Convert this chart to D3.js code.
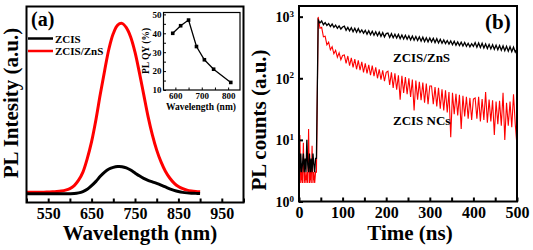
<!DOCTYPE html>
<html lang="en">
<head>
  <meta charset="UTF-8">
  <title>PL spectra and decay</title>
  <style>
    body { margin: 0; background: #fff; }
    svg text { font-family: "Liberation Serif", "DejaVu Serif", serif; font-weight: bold; }
  </style>
</head>
<body>
<script src="https://cdn.jsdelivr.net/npm/d3@7"></script>
<script>
  // ---- panel (a): PL spectra ----
  var wavelength = d3.range(500, 901, 10);
  var zcisZnS = [0.000,0.000,0.000,0.001,0.001,0.002,0.003,0.005,0.008,0.013,
                 0.022,0.040,0.072,0.120,0.200,0.300,0.430,0.580,0.720,0.850,
                 0.940,0.990,1.000,0.975,0.920,0.830,0.710,0.580,0.450,0.340,
                 0.250,0.180,0.125,0.085,0.055,0.035,0.022,0.013,0.008,0.005,0.003];
  var zcis = [-0.008,-0.008,-0.008,-0.008,-0.008,-0.008,-0.008,-0.008,-0.008,-0.008,
              -0.008,-0.007,-0.003,0.005,0.018,0.040,0.065,0.095,0.120,0.138,
              0.148,0.153,0.152,0.145,0.132,0.115,0.098,0.083,0.071,0.062,
              0.053,0.043,0.032,0.021,0.012,0.005,0.000,-0.003,-0.005,-0.006,-0.007];
  var xTicksA = d3.range(500, 1001, 50);
  var xLabelsA = [550, 650, 750, 850, 950];

  // inset: PL QY vs emission wavelength
  var qyWavelength = [590, 620, 650, 680, 710, 745, 810];
  var qyValue = [40, 44, 47, 33, 26, 21, 14];
  var qyXLabels = [600, 700, 800];
  var qyYLabels = [10, 20, 30, 40, 50];

  // ---- panel (b): decay curves ----
  var timePre = d3.range(0, 40, 2);
  var timeMain = d3.range(40, 501, 4);
  var time = timePre.concat(timeMain);
  var decayZnS = [5,3,6,3,4,6,3,5,3,10,4,3,6,3,5,3,6,4,3,5,
    5,
    880,790,850,740,800,720,770,690,760,670,730,650,710,630,680,
    700,600,670,590,660,570,650,560,640,555,610,540,600,520,590,510,580,500,570,490,560,480,550,470,530,
    540,460,530,455,520,450,515,440,505,435,500,430,490,420,485,415,475,410,470,400,465,395,455,390,450,
    390,445,380,440,375,430,370,420,365,410,360,405,350,400,345,390,340,385,335,380,330,370,325,365,330,
    380,320,375,315,370,310,360,305,355,300,350,295,345,290,340,285,335,280,330,275,325,270,320,265,300];
  var decayNCs = [2,12,2,3,2,9,2,3,2,3,2,15,2,3,2,8,2,3,2,3,
    3,
    990,650,670,470,480,350,385,290,325,250,285,220,260,200,235,
    240,175,230,160,215,150,205,140,195,135,185,125,175,120,165,112,160,108,150,100,140,95,135,90,125,
    130,78,125,70,120,65,112,45,110,58,105,55,100,50,95,30,92,45,88,44,85,40,82,38,75,
    75,38,72,35,70,32,66,30,64,28,60,11,58,26,56,25,54,15,52,24,50,22,48,21,46,
    48,22,50,20,46,21,60,19,45,20,44,12,42,18,43,17,58,10,40,17,42,16,55,18,8];
  var xTicksB = d3.range(0, 501, 50);
  var xLabelsB = [0, 100, 200, 300, 400, 500];
  var yTicksB = [1, 10, 100, 1000];

  var svg = d3.select("body").append("svg")
    .attr("width", 533).attr("height", 250);

  // ================= panel (a) =================
  var xa = d3.scaleLinear().domain([500, 1000]).range([26.5, 243.5]);
  var ya = d3.scaleLinear().domain([-0.06, 1.1]).range([202.5, 6.5]);

  var ga = svg.append("g");

  var specLine = d3.line()
    .x(function(d, i) { return xa(wavelength[i]); })
    .y(function(d) { return ya(d); })
    .curve(d3.curveCatmullRom);

  ga.append("path").datum(zcisZnS)
    .attr("fill", "none").attr("stroke", "#ff0000").attr("stroke-width", 3)
    .attr("d", specLine);
  ga.append("path").datum(zcis)
    .attr("fill", "none").attr("stroke", "#000").attr("stroke-width", 3)
    .attr("d", specLine);

  var xAxisA = ga.append("g")
    .attr("transform", "translate(0," + ya.range()[0] + ")")
    .call(d3.axisBottom(xa).tickValues(xTicksA).tickSize(-4).tickPadding(5)
      .tickFormat(function(v) { return xLabelsA.indexOf(v) >= 0 ? v : ""; }));
  xAxisA.select(".domain").remove();
  xAxisA.selectAll(".tick line").attr("stroke-width", 2);
  xAxisA.selectAll("text").attr("font-size", 16).attr("fill", "#000");

  ga.append("rect")
    .attr("x", xa.range()[0]).attr("y", ya.range()[1])
    .attr("width", xa.range()[1] - xa.range()[0])
    .attr("height", ya.range()[0] - ya.range()[1])
    .attr("fill", "none").attr("stroke", "#000").attr("stroke-width", 2);

  ga.append("text").attr("x", 31).attr("y", 26).attr("font-size", 20).text("(a)");

  // legend
  var legend = [{name: "ZCIS", color: "#000", y: 38.5}, {name: "ZCIS/ZnS", color: "#ff0000", y: 51}];
  legend.forEach(function(l) {
    ga.append("line").attr("x1", 28).attr("x2", 53).attr("y1", l.y).attr("y2", l.y)
      .attr("stroke", l.color).attr("stroke-width", 2.5);
    ga.append("text").attr("x", 55).attr("y", l.y + 4).attr("font-size", 11).text(l.name);
  });

  ga.append("text")
    .attr("transform", "translate(18,103) rotate(-90)")
    .attr("text-anchor", "middle").attr("font-size", 21).text("PL Intesity (a.u.)");
  ga.append("text")
    .attr("x", 140).attr("y", 240)
    .attr("text-anchor", "middle").attr("font-size", 21).text("Wavelength (nm)");

  // inset
  var xi = d3.scaleLinear().domain([555, 845]).range([163.5, 240]);
  var yi = d3.scaleLinear().domain([10, 51]).range([90, 12.5]);
  var gi = svg.append("g");

  var xAxisI = gi.append("g").attr("transform", "translate(0," + yi.range()[0] + ")")
    .call(d3.axisBottom(xi).tickValues(d3.range(600, 801, 50)).tickSize(-2.5).tickPadding(3)
      .tickFormat(function(v) { return qyXLabels.indexOf(v) >= 0 ? v : ""; }));
  var yAxisI = gi.append("g").attr("transform", "translate(" + xi.range()[0] + ",0)")
    .call(d3.axisLeft(yi).tickValues(d3.range(10, 51, 5)).tickSize(-2.5).tickPadding(2)
      .tickFormat(function(v) { return qyYLabels.indexOf(v) >= 0 ? v : ""; }));
  [xAxisI, yAxisI].forEach(function(ax) {
    ax.select(".domain").remove();
    ax.selectAll("text").attr("font-size", 9).attr("fill", "#000");
  });
  gi.append("rect")
    .attr("x", xi.range()[0]).attr("y", yi.range()[1])
    .attr("width", xi.range()[1] - xi.range()[0])
    .attr("height", yi.range()[0] - yi.range()[1])
    .attr("fill", "none").attr("stroke", "#000").attr("stroke-width", 1.2);

  gi.append("path").datum(qyValue)
    .attr("fill", "none").attr("stroke", "#000").attr("stroke-width", 1.3)
    .attr("d", d3.line().x(function(d, i) { return xi(qyWavelength[i]); }).y(function(d) { return yi(d); }));
  gi.selectAll(".qy").data(qyValue).enter().append("rect")
    .attr("class", "qy")
    .attr("x", function(d, i) { return xi(qyWavelength[i]) - 1.8; })
    .attr("y", function(d) { return yi(d) - 1.8; })
    .attr("width", 3.6).attr("height", 3.6).attr("fill", "#000");

  gi.append("text")
    .attr("transform", "translate(149,51) rotate(-90)")
    .attr("text-anchor", "middle").attr("font-size", 9.5).text("PL QY (%)");
  gi.append("text")
    .attr("x", 201).attr("y", 110)
    .attr("text-anchor", "middle").attr("font-size", 9.5).text("Wavelength (nm)");

  // ================= panel (b) =================
  var xb = d3.scaleLinear().domain([0, 500]).range([299, 517]);
  var yb = d3.scaleLog().domain([1, 1490]).range([201.5, 6]);
  var gb = svg.append("g");

  var decayLine = d3.line()
    .x(function(d, i) { return xb(time[i]); })
    .y(function(d) { return yb(d); });

  gb.append("path").datum(decayNCs)
    .attr("fill", "none").attr("stroke", "#ff0000").attr("stroke-width", 1.1)
    .attr("d", decayLine);
  gb.append("path").datum(decayZnS)
    .attr("fill", "none").attr("stroke", "#000").attr("stroke-width", 1.3)
    .attr("d", decayLine);

  var xAxisB = gb.append("g")
    .attr("transform", "translate(0," + yb.range()[0] + ")")
    .call(d3.axisBottom(xb).tickValues(xTicksB).tickSize(-4).tickPadding(5)
      .tickFormat(function(v) { return xLabelsB.indexOf(v) >= 0 ? v : ""; }));
  xAxisB.select(".domain").remove();
  xAxisB.selectAll(".tick line").attr("stroke-width", 2);
  xAxisB.selectAll("text").attr("font-size", 16).attr("fill", "#000");

  var yAxisB = gb.append("g")
    .attr("transform", "translate(" + xb.range()[0] + ",0)")
    .call(d3.axisLeft(yb).tickValues(yTicksB).tickSize(-4).tickPadding(5).tickFormat(function() { return ""; }));
  yAxisB.select(".domain").remove();
  yAxisB.selectAll(".tick line").attr("stroke-width", 2);
  yAxisB.selectAll(".tick text").each(function(v) {
    var t = d3.select(this).attr("font-size", 14).attr("fill", "#000").attr("dy", "0.35em");
    t.append("tspan").text("10");
    t.append("tspan").attr("font-size", 9).attr("dy", "-0.6em").text(Math.round(Math.log10(v)));
  });

  gb.append("rect")
    .attr("x", xb.range()[0]).attr("y", yb.range()[1])
    .attr("width", xb.range()[1] - xb.range()[0])
    .attr("height", yb.range()[0] - yb.range()[1])
    .attr("fill", "none").attr("stroke", "#000").attr("stroke-width", 2);

  gb.append("text").attr("x", 485).attr("y", 29).attr("font-size", 21).text("(b)");
  gb.append("text").attr("x", 393).attr("y", 62).attr("font-size", 13).text("ZCIS/ZnS");
  gb.append("text").attr("x", 393).attr("y", 125).attr("font-size", 13).text("ZCIS NCs");

  gb.append("text")
    .attr("transform", "translate(266,120) rotate(-90)")
    .attr("text-anchor", "middle").attr("font-size", 21).text("PL counts (a.u.)");
  gb.append("text")
    .attr("x", 410).attr("y", 240)
    .attr("text-anchor", "middle").attr("font-size", 21).text("Time (ns)");
</script>
</body>
</html>
